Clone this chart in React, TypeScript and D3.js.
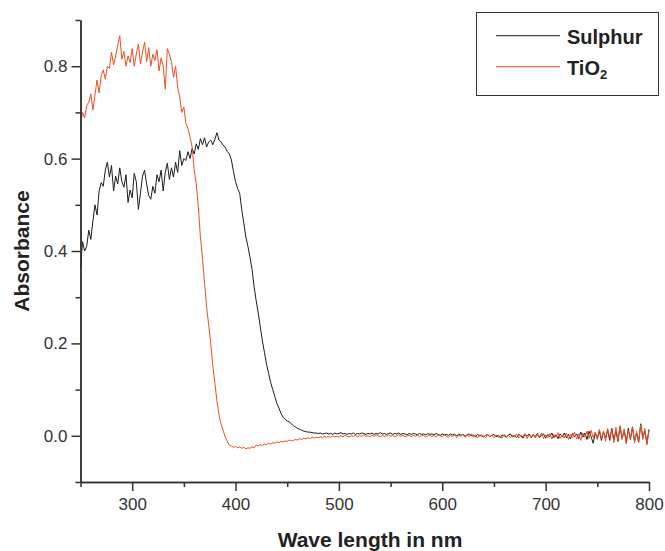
import React, { useEffect, useRef } from "react";
import * as d3 from "d3";

// spectra sampled every 2 nm from 250 nm
const WAVE_START = 250;
const WAVE_STEP = 2;

const sulphur = [
  0.365, 0.42, 0.40, 0.41, 0.445, 0.425, 0.465, 0.50, 0.478, 0.53,
  0.548, 0.54, 0.575, 0.592, 0.56, 0.585, 0.53, 0.562, 0.545, 0.58,
  0.55, 0.538, 0.565, 0.505, 0.532, 0.515, 0.568, 0.55, 0.49, 0.525,
  0.562, 0.575, 0.545, 0.52, 0.512, 0.54, 0.525, 0.565, 0.55, 0.575,
  0.53, 0.57, 0.59, 0.555, 0.58, 0.56, 0.592, 0.57, 0.617, 0.585,
  0.60, 0.596, 0.615, 0.60, 0.622, 0.61, 0.632, 0.62, 0.643, 0.63,
  0.645, 0.625, 0.636, 0.64, 0.63, 0.642, 0.656, 0.64, 0.636, 0.629,
  0.625, 0.615, 0.61, 0.597, 0.572, 0.55, 0.535, 0.525, 0.49, 0.46,
  0.43, 0.41, 0.386, 0.36, 0.322, 0.292, 0.265, 0.235, 0.205, 0.18,
  0.155, 0.135, 0.115, 0.10, 0.085, 0.07, 0.06, 0.048, 0.04, 0.036,
  0.032, 0.03, 0.026, 0.022, 0.019, 0.016, 0.014, 0.012, 0.01, 0.009,
  0.008, 0.008, 0.007, 0.006, 0.006, 0.005, 0.006, 0.004, 0.005, 0.006,
  0.004, 0.005, 0.003, 0.006, 0.004, 0.005, 0.007, 0.004, 0.005, 0.003,
  0.005, 0.004, 0.006, 0.003, 0.005, 0.004, 0.006, 0.005, 0.003, 0.005,
  0.004, 0.006, 0.003, 0.005, 0.004, 0.007, 0.004, 0.005, 0.003, 0.005,
  0.006, 0.003, 0.005, 0.004, 0.006, 0.003, 0.005, 0.004, 0.002, 0.005,
  0.003, 0.005, 0.004, 0.002, 0.005, 0.003, 0.004, 0.002, 0.005, 0.003,
  0.004, 0.002, 0.005, 0.003, 0.001, 0.004, 0.002, 0.003, 0.001, 0.004,
  0.002, 0.003, 0.0, 0.004, 0.001, 0.003, -0.001, 0.002, 0.004, 0.0,
  0.002, -0.002, 0.003, 0.0, 0.002, -0.003, 0.001, 0.003, -0.002, 0.001,
  0.003, -0.002, 0.001, -0.004, 0.002, 0.0, -0.003, 0.002, 0.004, -0.002,
  0.001, -0.004, 0.003, 0.0, -0.005, 0.003, -0.001, 0.004, -0.004, 0.002,
  -0.002, 0.005, -0.004, 0.001, 0.004, -0.005, 0.003, -0.002, 0.006, -0.004,
  0.002, -0.006, 0.004, -0.002, 0.006, -0.004, 0.003, -0.007, 0.005, -0.002,
  0.004, -0.006, 0.008, -0.003, 0.006, -0.008, 0.01, -0.002, -0.016, 0.006,
  -0.006, 0.01, -0.01, 0.008, -0.004, 0.012, -0.01, 0.016, -0.008, 0.01,
  -0.012, 0.02, -0.006, 0.012, -0.014, 0.016, -0.008, 0.018, -0.01, 0.006,
  -0.014, 0.026, -0.004, 0.01, -0.016, 0.014,
];

const tio2 = [
  0.675, 0.70, 0.688, 0.715, 0.722, 0.74, 0.705, 0.738, 0.77, 0.742,
  0.78, 0.792, 0.772, 0.80, 0.795, 0.83, 0.803, 0.822, 0.845, 0.866,
  0.815, 0.832, 0.80, 0.822, 0.808, 0.838, 0.80, 0.826, 0.848, 0.805,
  0.83, 0.852, 0.81, 0.84, 0.80, 0.826, 0.812, 0.836, 0.79, 0.818,
  0.80, 0.75, 0.838, 0.826, 0.81, 0.776, 0.80, 0.755, 0.733, 0.70,
  0.712, 0.676, 0.665, 0.646, 0.625, 0.575, 0.545, 0.495, 0.43, 0.385,
  0.33, 0.28, 0.24, 0.20, 0.152, 0.114, 0.075, 0.045, 0.025, 0.012,
  -0.003, -0.012, -0.02, -0.022, -0.025, -0.023, -0.026, -0.024, -0.027, -0.025,
  -0.028, -0.026, -0.027, -0.024, -0.026, -0.02, -0.022, -0.019, -0.021, -0.018,
  -0.019, -0.016, -0.018, -0.015, -0.016, -0.013, -0.015, -0.012, -0.013, -0.011,
  -0.012, -0.009, -0.011, -0.01, -0.008, -0.009, -0.006, -0.008, -0.005, -0.007,
  -0.004, -0.006, -0.003, -0.005, -0.003, -0.004, -0.002, -0.004, -0.001, -0.003,
  -0.002, -0.003, 0.0, -0.002, -0.001, -0.003, 0.0, -0.002, 0.001, -0.001,
  -0.002, 0.0, -0.001, 0.001, -0.002, 0.0, -0.001, 0.002, -0.001, 0.0,
  -0.002, 0.001, -0.001, 0.002, 0.0, -0.002, 0.001, -0.001, 0.0, 0.002,
  -0.001, 0.001, -0.002, 0.0, 0.002, -0.001, 0.001, -0.002, 0.0, 0.001,
  -0.002, 0.001, -0.001, 0.002, -0.002, 0.0, 0.001, -0.003, 0.0, 0.002,
  -0.002, 0.001, -0.003, 0.002, 0.0, -0.002, 0.003, -0.001, -0.003, 0.001,
  -0.002, 0.002, -0.004, 0.001, -0.001, 0.003, -0.003, 0.001, -0.002, 0.004,
  -0.003, 0.001, -0.005, 0.002, -0.002, 0.0, -0.004, 0.003, -0.002, 0.001,
  -0.004, 0.002, -0.003, 0.0, -0.005, 0.003, -0.002, 0.001, -0.004, 0.002,
  -0.003, 0.004, -0.005, 0.001, -0.002, 0.005, -0.006, 0.002, -0.003, 0.004,
  -0.005, 0.003, -0.002, 0.006, -0.006, 0.002, -0.004, 0.005, -0.007, 0.003,
  -0.003, 0.007, -0.006, 0.002, -0.005, 0.006, -0.008, 0.003, -0.004, 0.008,
  -0.007, 0.004, -0.01, 0.006, -0.003, 0.01, -0.006, 0.012, -0.004, 0.008,
  -0.008, 0.014, -0.006, 0.01, -0.012, 0.016, -0.004, 0.012, -0.015, 0.018,
  -0.01, 0.022, -0.008, 0.015, -0.018, 0.012, -0.006, 0.02, -0.016, 0.01,
  -0.012, 0.024, -0.008, 0.016, -0.02, 0.012,
];

const xTicks = [300, 400, 500, 600, 700, 800];
const xMinorTicks = [250, 350, 450, 550, 650, 750];
const yTicks = [0.0, 0.2, 0.4, 0.6, 0.8];
const yMinorTicks = [-0.1, 0.1, 0.3, 0.5, 0.7, 0.9];

const series = [
  { name: "Sulphur", values: sulphur, color: "#1c1c1c" },
  { name: "TiO2", values: tio2, color: "#f04e23" },
];

const FONT = "'Liberation Sans', Arial, Helvetica, sans-serif";

export default function App() {
  const myRef = useRef<SVGSVGElement>(null);

  const width = 665;
  const height = 551;

  // plot area in page pixels
  const x = d3.scaleLinear().domain([250, 800]).range([80.5, 649]);
  const y = d3.scaleLinear().domain([-0.1, 0.9]).range([482, 20]);

  useEffect(() => {
    const svg = d3.select(myRef.current);
    svg.selectAll("*").remove();

    const line = d3
      .line<number>()
      .x((d, i) => x(WAVE_START + i * WAVE_STEP))
      .y((d) => y(d));

    // Draw lines
    series.forEach((s) => {
      svg
        .append("path")
        .datum(s.values)
        .attr("fill", "none")
        .attr("stroke", s.color)
        .attr("stroke-width", 1)
        .attr("stroke-linejoin", "round")
        .attr("d", line);
    });

    // Axes
    const xAxis = svg.append("g").attr("transform", `translate(0,${y(-0.1)})`);
    xAxis.call(
      d3.axisBottom(x).tickValues(xTicks).tickSize(9).tickSizeOuter(0).tickPadding(7).tickFormat(d3.format("d"))
    );
    xAxis.append("g").call(
      d3.axisBottom(x).tickValues(xMinorTicks).tickSize(5).tickSizeOuter(0).tickFormat(() => "")
    );

    const yAxis = svg.append("g").attr("transform", `translate(${x(250)},0)`);
    yAxis.call(
      d3.axisLeft(y).tickValues(yTicks).tickSize(9).tickSizeOuter(0).tickPadding(4).tickFormat(d3.format(".1f"))
    );
    yAxis.append("g").call(
      d3.axisLeft(y).tickValues(yMinorTicks).tickSize(5).tickSizeOuter(0).tickFormat(() => "")
    );

    svg.selectAll(".domain, .tick line").attr("stroke", "#333").attr("stroke-width", 1.5);
    svg
      .selectAll(".tick text")
      .attr("fill", "#333")
      .attr("font-size", 17)
      .attr("font-family", FONT);

    // Axis titles
    svg
      .append("text")
      .attr("x", 370)
      .attr("y", 546.5)
      .attr("text-anchor", "middle")
      .attr("font-family", FONT)
      .attr("font-weight", "bold")
      .attr("font-size", 21)
      .attr("fill", "#222")
      .text("Wave length in nm");

    svg
      .append("text")
      .attr("transform", `translate(28.5,${(y(-0.1) + y(0.9)) / 2}) rotate(-90)`)
      .attr("text-anchor", "middle")
      .attr("font-family", FONT)
      .attr("font-weight", "bold")
      .attr("font-size", 21)
      .attr("fill", "#222")
      .text("Absorbance");

    // Legend
    const legend = svg.append("g");
    legend
      .append("rect")
      .attr("x", 476.5)
      .attr("y", 12.5)
      .attr("width", 182)
      .attr("height", 83)
      .attr("fill", "white")
      .attr("stroke", "#333")
      .attr("stroke-width", 1);

    series.forEach((s, i) => {
      const ly = 35.7 + i * 31;
      legend
        .append("line")
        .attr("x1", 496)
        .attr("x2", 560)
        .attr("y1", ly)
        .attr("y2", ly)
        .attr("stroke", s.color)
        .attr("stroke-width", 1);
      const t = legend
        .append("text")
        .attr("x", 567)
        .attr("y", ly + 8)
        .attr("font-family", FONT)
        .attr("font-weight", "bold")
        .attr("font-size", 20)
        .attr("fill", "#222");
      if (s.name === "TiO2") {
        t.append("tspan").text("TiO");
        t.append("tspan").attr("font-size", 13).attr("dy", 4).text("2");
      } else {
        t.text(s.name);
      }
    });
  }, []);

  return (
    <svg
      ref={myRef}
      width={width}
      height={height}
      style={{ position: "absolute", left: 0, top: 0, background: "white" }}
    />
  );
}
